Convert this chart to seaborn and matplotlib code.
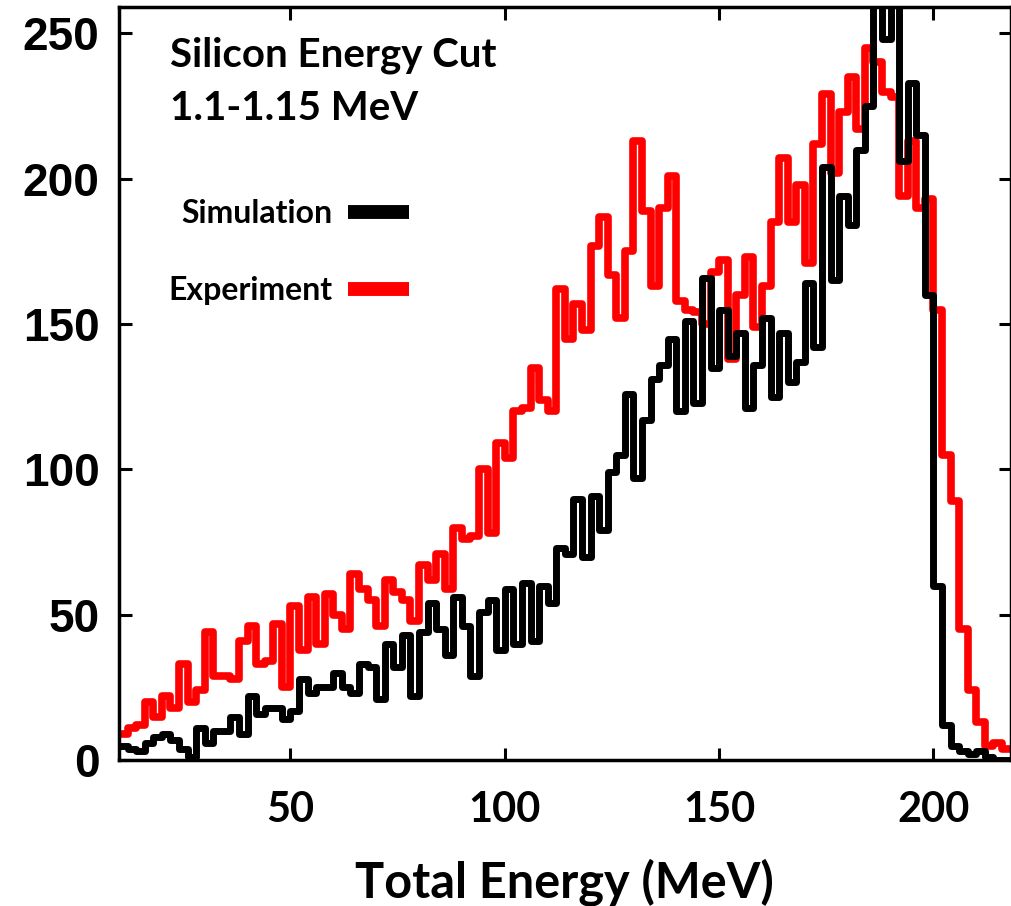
import numpy as np
import pandas as pd
import matplotlib
matplotlib.use('Agg')
import matplotlib.pyplot as plt
from matplotlib.lines import Line2D
import seaborn as sns

# histogram bins (MeV)
bin_start = 10
bin_width = 2

# counts per bin
simulation = [5, 4, 3, 6, 8, 9, 7, 4, 1, 11,
              6, 10, 10, 15, 9, 22, 16, 18, 18, 14,
              17, 28, 23, 25, 25, 30, 25, 23, 33, 32,
              21, 40, 32, 43, 22, 44, 54, 45, 36, 56,
              46, 29, 51, 55, 38, 59, 40, 61, 41, 60,
              54, 73, 71, 90, 70, 91, 79, 99, 105, 126,
              97, 117, 131, 136, 145, 120, 151, 123, 166, 135,
              155, 139, 147, 121, 136, 152, 125, 147, 130, 137,
              164, 142, 204, 165, 194, 184, 210, 225, 270, 248,
              268, 206, 233, 215, 160, 60, 12, 5, 3, 2,
              3, 1, 0, 0]
experiment = [9, 11, 12, 20, 15, 22, 18, 33, 20, 24,
              44, 29, 29, 28, 41, 46, 33, 34, 47, 25,
              53, 38, 56, 40, 57, 50, 45, 64, 59, 55,
              46, 62, 58, 55, 48, 67, 62, 71, 59, 80,
              76, 77, 100, 78, 109, 104, 120, 121, 135, 124,
              120, 162, 145, 157, 148, 177, 187, 167, 152, 175,
              213, 189, 163, 190, 201, 158, 155, 154, 150, 168,
              172, 138, 160, 173, 149, 163, 185, 207, 185, 198,
              171, 212, 229, 202, 223, 235, 217, 245, 240, 230,
              228, 194, 213, 190, 193, 155, 105, 89, 45, 24,
              13, 5, 6, 4]

x_ticks = [50, 100, 150, 200]
y_ticks = [0, 50, 100, 150, 200, 250]

sns.set_theme(style='ticks')
plt.rcParams['font.family'] = ['Lato', 'DejaVu Sans']
plt.rcParams['text.color'] = 'black'
plt.rcParams['axes.labelcolor'] = 'black'

fig = plt.figure(figsize=(10.12, 9.06), dpi=100)
ax = fig.add_axes([0.1176, 0.161, 0.881, 0.831])


def draw_hist(counts, color, lw):
    centers = bin_start + bin_width * (np.arange(len(counts)) + 0.5)
    df = pd.DataFrame({'energy': centers, 'counts': counts})
    hi = bin_start + bin_width * len(counts)
    sns.histplot(data=df, x='energy', weights='counts', binwidth=bin_width,
                 binrange=(bin_start, hi), element='step', fill=False,
                 color=color, linewidth=lw, ax=ax)


draw_hist(experiment, '#ff0000', 5.5)
draw_hist(simulation, 'black', 5)

ax.set_xlim(10, 218)
ax.set_ylim(0, 259)
ax.set_xticks(x_ticks)
ax.set_yticks(y_ticks)
ax.set_ylabel('')
ax.set_xlabel('Total Energy (MeV)', fontsize=35, fontweight='bold',
              labelpad=21, color='black')

for s in ax.spines.values():
    s.set_visible(True)
    s.set_linewidth(2.5)
    s.set_color('black')

ax.tick_params(direction='in', length=9, width=2.2, top=True, right=True,
               colors='black', labelcolor='black')
ax.tick_params(axis='x', pad=22, labelsize=30)
ax.tick_params(axis='y', pad=14)
for lab in ax.get_yticklabels():
    lab.set_fontfamily('Liberation Sans')
    lab.set_fontweight('bold')
    lab.set_fontsize(33)
for lab in ax.get_xticklabels():
    lab.set_fontweight('bold')

ax.text(0.057, 0.936, 'Silicon Energy Cut', transform=ax.transAxes,
        fontsize=29, fontweight='bold', va='center', ha='left', color='black')
ax.text(0.057, 0.865, '1.1-1.15 MeV', transform=ax.transAxes,
        fontsize=29, fontweight='bold', va='center', ha='left', color='black')

handles = [Line2D([], [], color='black', linewidth=10, solid_capstyle='butt'),
           Line2D([], [], color='#ff0000', linewidth=10, solid_capstyle='butt')]
leg = ax.legend(handles, ['Simulation', 'Experiment'], loc='upper left',
                bbox_to_anchor=(0.055, 0.745), frameon=False, markerfirst=False,
                prop={'family': 'Lato', 'weight': 'bold', 'size': 23},
                handlelength=1.9, handletextpad=0.5, labelspacing=1.5,
                borderpad=0, borderaxespad=0)
for t in leg.get_texts():
    t.set_color('black')

fig.savefig('out.png', dpi=100, facecolor='white')
